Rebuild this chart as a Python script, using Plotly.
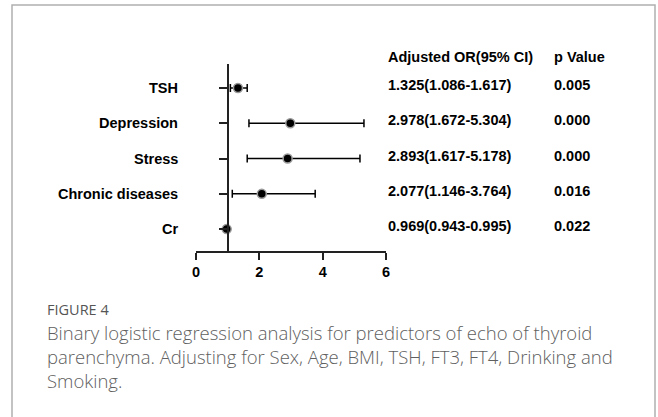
import plotly.graph_objects as go

# forest plot data
factors = ['TSH', 'Depression', 'Stress', 'Chronic diseases', 'Cr']
odds_ratio = [1.325, 2.978, 2.893, 2.077, 0.969]
ci_low = [1.086, 1.672, 1.617, 1.146, 0.943]
ci_high = [1.617, 5.304, 5.178, 3.764, 0.995]
p_values = ['0.005', '0.000', '0.000', '0.016', '0.022']
x_ticks = [0, 2, 4, 6]

caption_title = 'FIGURE 4'
caption_lines = [
    'Binary logistic regression analysis for predictors of echo of thyroid',
    'parenchyma. Adjusting for Sex, Age, BMI, TSH, FT3, FT4, Drinking and',
    'Smoking.',
]

W, H = 658, 417
L, R, T, B = 196, 386, 64, 251  # plot area in pixels


def px_x(px):
    return (px - L) / (R - L)


def px_y(py):
    return (B - py) / (B - T)


rows = list(range(len(factors)))
or_text = [f'{o:.3f}({lo:.3f}-{hi:.3f})' for o, lo, hi in zip(odds_ratio, ci_low, ci_high)]

fig = go.Figure()
fig.add_trace(go.Scatter(
    x=odds_ratio,
    y=rows,
    mode='markers',
    marker=dict(size=9, color='black', line=dict(color='#9a9a9a', width=1.5)),
    error_x=dict(
        type='data',
        symmetric=False,
        array=[h - o for h, o in zip(ci_high, odds_ratio)],
        arrayminus=[o - l for o, l in zip(odds_ratio, ci_low)],
        color='black',
        thickness=1.5,
        width=4,
    ),
    cliponaxis=False,
    showlegend=False,
))

bold = dict(family='Liberation Sans, Arial', size=14.5, color='black', weight='bold')

annotations = []
for i, name in enumerate(factors):
    annotations.append(dict(x=px_x(180), xref='paper', y=i, yref='y', text=name,
                            xanchor='right', showarrow=False, font=bold))
    annotations.append(dict(x=6.0, xref='x', y=i, yref='y', text=or_text[i], yshift=3,
                            xanchor='left', showarrow=False, font=bold))
    annotations.append(dict(x=px_x(552), xref='paper', y=i, yref='y', text=p_values[i], yshift=3,
                            xanchor='left', showarrow=False, font=bold))

annotations.append(dict(x=6.0, xref='x', y=px_y(47), yref='paper', text='Adjusted OR(95% CI)',
                        xanchor='left', showarrow=False, font=bold))
annotations.append(dict(x=px_x(552), xref='paper', y=px_y(47), yref='paper', text='p Value',
                        xanchor='left', showarrow=False, font=bold))

caption_font = dict(family='Open Sans, Lato')
annotations.append(dict(x=px_x(45), xref='paper', y=px_y(309), yref='paper', text=caption_title,
                        xanchor='left', yanchor='middle', showarrow=False,
                        font=dict(size=14.5, color='#555555', **caption_font)))
for k, line in enumerate(caption_lines):
    annotations.append(dict(x=px_x(45), xref='paper', y=px_y(332 + 24 * k), yref='paper', text=line,
                            xanchor='left', yanchor='middle', showarrow=False,
                            font=dict(size=18.5, weight=300, color='#606060', **caption_font)))

fig.update_layout(
    width=W,
    height=H,
    margin=dict(l=L, r=W - R, t=T, b=H - B, pad=0),
    paper_bgcolor='white',
    plot_bgcolor='white',
    xaxis=dict(
        range=[0, 6],
        tickvals=x_ticks,
        showline=True,
        linecolor='#222',
        linewidth=2,
        ticks='outside',
        ticklen=7,
        tickwidth=2,
        tickcolor='#222',
        showgrid=False,
        zeroline=False,
        tickfont=bold,
    ),
    yaxis=dict(
        range=[4.62, -0.68],
        tickvals=rows,
        showticklabels=False,
        anchor='free',
        position=1 / 6,
        showline=True,
        linecolor='#222',
        linewidth=2,
        ticks='outside',
        ticklen=8,
        tickwidth=1.5,
        tickcolor='#222',
        showgrid=False,
        zeroline=False,
    ),
    annotations=annotations,
    shapes=[dict(type='rect', xref='paper', yref='paper',
                 x0=px_x(12), x1=px_x(655), y0=px_y(430), y1=px_y(5),
                 line=dict(color='#b0b0b0', width=1.5))],
)

# page margin off so the figure sits at the window origin
fig.write_html('out.html', config={'displayModeBar': False},
               post_script="document.body.style.margin='0';")
